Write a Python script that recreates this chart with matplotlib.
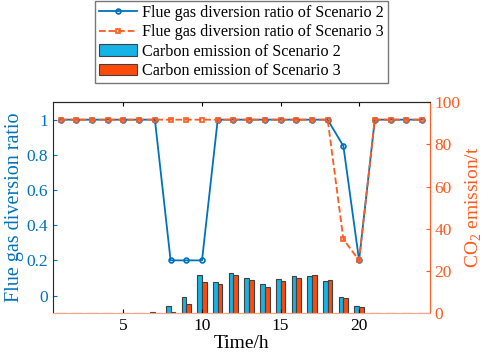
import numpy as np
import matplotlib.pyplot as plt
from matplotlib.ticker import FormatStrFormatter

plt.rcParams['font.family'] = ['Liberation Serif', 'DejaVu Serif']
plt.rcParams['mathtext.fontset'] = 'custom'
plt.rcParams['mathtext.rm'] = 'Liberation Serif'

hours = np.arange(1, 25)
ratio_s2 = [1, 1, 1, 1, 1, 1, 1, 0.2, 0.2, 0.2, 1, 1, 1, 1, 1, 1, 1, 1, 0.85, 0.2, 1, 1, 1, 1]
ratio_s3 = [1, 1, 1, 1, 1, 1, 1, 1, 1, 1, 1, 1, 1, 1, 1, 1, 1, 1, 0.32, 0.2, 1, 1, 1, 1]
co2_s2 = [0, 0, 0, 0, 0, 0, 0.3, 3.6, 7.6, 18.3, 14.9, 19.1, 16.8, 13.6, 16.3, 17.7, 17.7, 15.3, 7.8, 3.2, 0.2, 0, 0, 0]
co2_s3 = [0, 0, 0, 0, 0, 0, 0, 0.3, 4.1, 14.7, 13.9, 18.2, 15.8, 12.6, 15.2, 16.6, 18.3, 15.8, 7.4, 2.9, 0, 0, 0, 0]

blue = '#0072BD'
orange = '#FF5A1F'
cyan = '#14B4E6'
red = '#FF4A0A'

fig = plt.figure(figsize=(4.98, 3.62), dpi=100)
ax = fig.add_axes([0.106, 0.135, 0.757, 0.583])
ax2 = ax.twinx()

w = 0.3
b2 = ax2.bar(hours - w / 2, co2_s2, w, color=cyan, edgecolor='#404040', linewidth=0.8,
             label='Carbon emission of Scenario 2')
b3 = ax2.bar(hours + w / 2, co2_s3, w, color=red, edgecolor='#404040', linewidth=0.8,
             label='Carbon emission of Scenario 3')
ax2.set_ylim(0, 100)
ax2.set_yticks([0, 20, 40, 60, 80, 100])
ax2.set_ylabel('CO$_2$ emission/t', color=orange, fontsize=14, labelpad=2)
ax2.tick_params(axis='y', colors=orange, direction='in', labelsize=12.5, length=3)
ax2.spines['right'].set_color(orange)

ax.set_zorder(ax2.get_zorder() + 1)
ax.patch.set_visible(False)
l2, = ax.plot(hours, ratio_s2, '-o', color=blue, lw=1.3, ms=3.5, mfc='none', mew=1.2,
              label='Flue gas diversion ratio of Scenario 2')
l3, = ax.plot(hours, ratio_s3, '--s', color=orange, lw=1.3, ms=3.5, mfc='none', mew=1.2,
              label='Flue gas diversion ratio of Scenario 3')
ax.set_xlim(0.5, 24.5)
ax.set_ylim(-0.1, 1.1)
ax.set_xticks([5, 10, 15, 20])
ax.set_yticks([0, 0.2, 0.4, 0.6, 0.8, 1])
ax.yaxis.set_major_formatter(FormatStrFormatter('%g'))
ax.set_ylabel('Flue gas diversion ratio', color=blue, fontsize=14.5, labelpad=2)
ax.set_xlabel('Time/h', fontsize=14, labelpad=1)
ax.tick_params(axis='y', colors=blue, direction='in', labelsize=12.5, length=3)
ax.tick_params(axis='x', direction='in', labelsize=12.5, length=3, top=True)
ax.spines['top'].set_color('#262626')
ax.spines['left'].set_color('#262626')
ax.spines['bottom'].set_color('#F4A58A')
ax2.spines['top'].set_color('#262626')
ax2.spines['bottom'].set_color('#F4A58A')
ax2.spines['left'].set_visible(False)
ax.spines['right'].set_visible(False)

fig.legend(handles=[l2, l3, b2, b3], loc='upper left', bbox_to_anchor=(0.19, 0.997),
           fontsize=11.6, frameon=True, fancybox=False, edgecolor='#555555',
           handlelength=2.4, borderpad=0.25, labelspacing=0.2, handletextpad=0.3,
           borderaxespad=0.0, numpoints=1)

fig.savefig('out.png', dpi=100)
